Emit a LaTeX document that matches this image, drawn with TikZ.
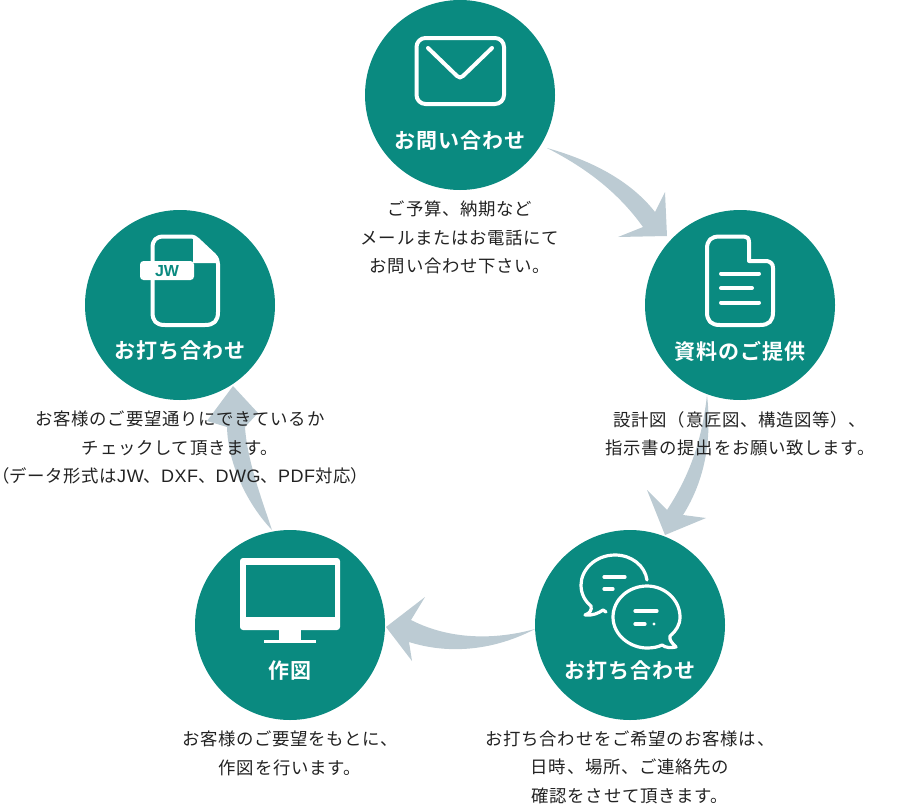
\documentclass[tikz,border=0pt]{standalone}
\usepackage{fontspec}
\setmainfont{Noto Sans CJK JP}
\newfontfamily\bodyfont{Noto Sans CJK JP}[LetterSpace=4]
\newfontfamily\paltfont{Noto Sans CJK JP}[RawFeature=+palt]
\newfontfamily\titlefont{Noto Sans CJK JP Bold}[LetterSpace=5]
\newfontfamily\jwfont{Liberation Sans}
\newfontfamily\latinfont{Liberation Sans}[LetterSpace=3]
\definecolor{teal1}{HTML}{0A8A80}
\definecolor{arrowc}{HTML}{BCCBD3}
\definecolor{txt}{HTML}{222222}
\tikzset{
  disc/.style={circle,fill=teal1,minimum size=190pt,inner sep=0pt,draw=none},
  title/.style={text=white,font=\titlefont\fontsize{21}{24}\selectfont,inner sep=0pt},
  desc/.style={text=txt,font=\bodyfont\fontsize{17.4}{28.5}\selectfont,align=center,inner sep=0pt,anchor=north},
  arrowshape/.style={fill=arrowc,draw=none},
  icon/.style={draw=white,line width=4pt,line join=round,line cap=round,fill=none},
  thinicon/.style={draw=white,line width=3.2pt,line cap=round,line join=round,fill=none}
}
\newcommand{\lat}[1]{{\latinfont\fontsize{18}{28.5}\selectfont #1}}
\newcommand{\pal}[1]{{\paltfont\fontsize{17.4}{28.5}\selectfont #1}}
\begin{document}
\begin{tikzpicture}[x=1pt,y=-1pt]
\useasboundingbox (0,0) rectangle (920,803);
% arrows
\fill[arrowshape] (547,148) .. controls (590,160) and (630,180) .. (655,212) -- (665,192) -- (667,236) -- (618,237) -- (643,227) .. controls (620,195) and (590,170) .. (547,148) -- cycle;
\fill[arrowshape] (707,395) .. controls (712,440) and (705,480) .. (683,515) -- (706,518) -- (665,535) -- (647,490) -- (667,510) .. controls (690,475) and (702,440) .. (707,395) -- cycle;
\fill[arrowshape] (535,629) .. controls (495,640) and (450,640) .. (411,620) -- (425,597) -- (386,627) -- (412,661) -- (409,642) .. controls (450,655) and (495,650) .. (535,629) -- cycle;
\fill[arrowshape] (272,530) .. controls (262,500) and (247,460) .. (245,427) -- (258,413) -- (233,386) -- (207,421) -- (227,427) .. controls (228,465) and (248,505) .. (272,530) -- cycle;
% discs
\node[disc] (c1) at (460,95) {};
\node[disc] (c2) at (740,305) {};
\node[disc] (c3) at (630,625) {};
\node[disc] (c4) at (290,625) {};
\node[disc] (c5) at (180,305) {};
% titles
\node[title] (t1) at (460,141) {お問い合わせ};
\node[title] (t2) at (740,351) {資料のご提供};
\node[title] (t3) at (630,671) {お打ち合わせ};
\node[title] (t4) at (290,671) {作図};
\node[title] (t5) at (180,351) {お打ち合わせ};
% descriptions
\node[desc] (d1) at (460,201) {ご予算、納期など\\メールまたはお電話にて\\お問い合わせ下さい。};
\node[desc] (d2) at (740,411) {設計図（意匠図、構造図等）、\\指示書の提出をお願い致します。};
\node[desc] (d3) at (630,730.5) {お打ち合わせをご希望のお客様は、\\日時、場所、ご連絡先の\\確認をさせて頂きます。};
\node[desc] (d4) at (290,731) {お客様のご要望をもとに、\\作図を行います。};
\node[desc] (d5) at (180,411) {お客様のご要望通りにできているか\\チェックして頂きます。\\\pal{（}データ形式は\lat{JW}、\lat{DXF}、\lat{DWG}、\lat{PDF}対応\pal{）}};
% mail icon
\draw[icon,rounded corners=9pt] (416.5,38) rectangle (504,104);
\draw[icon] (428,48) -- (457,76) .. controls (459,78) and (461,78) .. (463,76) -- (492,48);
% document icon
\draw[icon] (720,236.5) -- (744,236.5) .. controls (747,236.5) and (749,238) .. (749,242) -- (749,261) -- (767,261) .. controls (771,262) and (773,264) .. (773,268) -- (773,312) .. controls (773,321) and (769,325) .. (760,325) -- (720,325) .. controls (711,325) and (707,321) .. (707,312) -- (707,249) .. controls (707,240) and (711,236.5) .. (720,236.5) -- cycle;
\draw[icon] (721,273.5) -- (759,273.5);
\draw[icon] (721,288) -- (752,288);
\draw[icon] (721,302.5) -- (759,302.5);
% JW icon
\draw[icon] (152.5,262) -- (152.5,248) .. controls (152.5,240) and (156,236.5) .. (164,236.5) -- (190,236.5) .. controls (194,236.5) and (196,238) .. (198,240) -- (214,255) .. controls (217,258) and (218,261) .. (218,264) -- (218,312) .. controls (218,321) and (214,325) .. (205,325) -- (165,325) .. controls (156,325) and (152.5,321) .. (152.5,312) -- (152.5,280);
\fill[white] (193,238) .. controls (195,237) and (197,238) .. (198,240) -- (214,255) .. controls (217,258) and (218,260) .. (218,263) -- (193,263) -- cycle;
\fill[white,rounded corners=3.5pt] (140,261) rectangle (194,280);
\node[text=teal1,font=\jwfont\bfseries\fontsize{16}{16}\selectfont,inner sep=0pt] (jw) at (167,271) {JW};
% monitor icon
\fill[white,rounded corners=3pt] (240,558) rectangle (340,630);
\fill[teal1] (245.5,565) rectangle (334.5,617);
\fill[white] (279,630) rectangle (301,641);
\fill[white] (264,639.5) rectangle (316,643);
% chat icon
\draw[thinicon] (647,580) .. controls (645,566) and (632,555) .. (615,555) .. controls (595,555) and (581,570) .. (581,585) .. controls (581,594) and (585,601) .. (591,606) .. controls (592,610) and (590,613) .. (585,615) .. controls (592,616) and (599,613) .. (603,610) -- (606,612);
\draw[thinicon] (647,586) .. controls (628,586) and (613,600) .. (613,617) .. controls (613,635) and (630,648) .. (647,648) .. controls (653,648) and (658,647) .. (662,645) .. controls (666,648) and (671,648) .. (676,647) .. controls (672,643) and (669,640) .. (670,636) .. controls (676,631) and (680,625) .. (680,617) .. controls (680,600) and (665,586) .. (647,586) -- cycle;
\draw[thinicon] (604,577) -- (625,577);
\draw[thinicon] (604,589) -- (613,589);
\draw[thinicon] (635,611) -- (657,611);
\draw[thinicon] (635,624) -- (645,624);
\fill[white] (654,624) circle (1.7pt);
\end{tikzpicture}
\end{document}
